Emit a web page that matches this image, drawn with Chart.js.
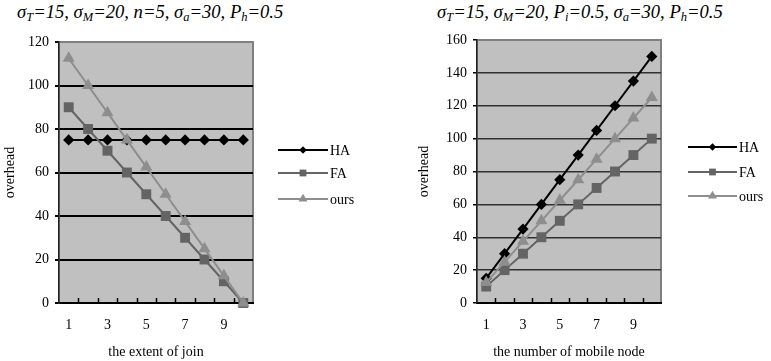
<!DOCTYPE html>
<html>
<head>
<meta charset="utf-8">
<script src="https://cdn.jsdelivr.net/npm/chart.js@4.4.1/dist/chart.umd.min.js"></script>
<style>
  html, body { margin: 0; padding: 0; background: #fff; }
  #wrap { position: relative; width: 771px; height: 361px; overflow: hidden; }
  canvas { position: absolute; top: 0; }
  .ttl {
    position: absolute; top: 1px; white-space: nowrap; color: #000;
    font-family: "Liberation Serif", serif; font-style: italic;
    font-size: 18.6px; line-height: 22px;
  }
  .ttl sub { font-size: 12.5px; line-height: 0; vertical-align: -3px; }
</style>
</head>
<body>
<div id="wrap">
  <div class="ttl" style="left:17px">&sigma;<sub>T</sub>=15, &sigma;<sub>M</sub>=20, n=5, &sigma;<sub>a</sub>=30, P<sub>h</sub>=0.5</div>
  <div class="ttl" style="left:437px">&sigma;<sub>T</sub>=15, &sigma;<sub>M</sub>=20, P<sub>i</sub>=0.5, &sigma;<sub>a</sub>=30, P<sub>h</sub>=0.5</div>
  <canvas id="left" width="390" height="361" style="left:0"></canvas>
  <canvas id="right" width="381" height="361" style="left:390px"></canvas>
</div>
<script>
// x categories (both charts)
const categories = ['1', '2', '3', '4', '5', '6', '7', '8', '9', '10'];

// left: the extent of join
const joinHA   = [75, 75, 75, 75, 75, 75, 75, 75, 75, 75];
const joinFA   = [90, 80, 70, 60, 50, 40, 30, 20, 10, 0];
const joinOurs = [112.5, 100, 87.5, 75, 62.5, 50, 37.5, 25, 12.5, 0];

// right: the number of mobile node
const nodeHA   = [15, 30, 45, 60, 75, 90, 105, 120, 135, 150];
const nodeFA   = [10, 20, 30, 40, 50, 60, 70, 80, 90, 100];
const nodeOurs = [12.5, 25, 37.5, 50, 62.5, 75, 87.5, 100, 112.5, 125];

const seriesNames = ['HA', 'FA', 'ours'];
const FONT = '"Liberation Serif", "Times New Roman", serif';

const styles = [
  { color: '#000000', pointStyle: 'rectRot', radius: 5.6, legendRadius: 3.8 },
  { color: '#646464', pointStyle: 'rect', radius: 7, legendRadius: 4.8 },
  { color: '#8e8e8e', pointStyle: 'triangle', radius: 7, legendRadius: 5.2 }
];

// grey plot area + border, and small up-pointing category ticks
const plotFrame = {
  id: 'plotFrame',
  beforeDraw(chart) {
    const { ctx, chartArea: a } = chart;
    ctx.save();
    ctx.fillStyle = '#c0c0c0';
    ctx.fillRect(a.left, a.top, a.width, a.height);
    ctx.strokeStyle = '#808080';
    ctx.lineWidth = 2;
    ctx.strokeRect(a.left, a.top, a.width, a.height);
    ctx.restore();
  },
  beforeDatasetsDraw(chart) {
    const { ctx, chartArea: a, scales: { x } } = chart;
    const step = x.getPixelForValue(1) - x.getPixelForValue(0);
    ctx.save();
    ctx.strokeStyle = '#000';
    ctx.lineWidth = 1.5;
    for (let i = 1; i < categories.length; i++) {
      const px = Math.round(x.getPixelForValue(i) - step / 2) + 0.5;
      ctx.beginPath();
      ctx.moveTo(px, a.bottom);
      ctx.lineTo(px, a.bottom - 5);
      ctx.stroke();
    }
    ctx.restore();
  }
};

// legend drawn as line + marker + name, like the original
const sideLegend = {
  id: 'sideLegend',
  afterDraw(chart, args, opts) {
    const { ctx } = chart;
    ctx.save();
    seriesNames.forEach((name, i) => {
      const s = styles[i];
      const y = opts.ys[i];
      ctx.strokeStyle = s.color;
      ctx.fillStyle = s.color;
      ctx.lineWidth = 2;
      ctx.beginPath();
      ctx.moveTo(opts.x1, y);
      ctx.lineTo(opts.x2, y);
      ctx.stroke();
      Chart.helpers.drawPoint(ctx, {
        pointStyle: s.pointStyle, radius: s.legendRadius, rotation: 0, borderWidth: 0
      }, (opts.x1 + opts.x2) / 2, y);
      ctx.fillStyle = '#000';
      ctx.font = '14px ' + FONT;
      ctx.textBaseline = 'middle';
      ctx.fillText(name, opts.x2 + 2, y + 1);
    });
    ctx.restore();
  }
};

function makeChart(id, values, yMax, gridColor, gridWidth, xTitle, geo) {
  const ctx = document.getElementById(id).getContext('2d');
  return new Chart(ctx, {
    type: 'line',
    data: {
      labels: categories,
      datasets: values.map((v, i) => ({
        label: seriesNames[i],
        data: v,
        borderColor: styles[i].color,
        backgroundColor: styles[i].color,
        borderWidth: 2,
        pointStyle: styles[i].pointStyle,
        pointRadius: styles[i].radius,
        pointBorderWidth: 0,
        pointBackgroundColor: styles[i].color,
        tension: 0,
        clip: false
      })).reverse()
    },
    options: {
      responsive: false,
      animation: false,
      events: [],
      layout: { padding: geo.padding },
      plugins: {
        legend: { display: false },
        tooltip: { enabled: false },
        sideLegend: geo.legend
      },
      scales: {
        x: {
          type: 'category',
          offset: true,
          grid: { display: true, drawOnChartArea: false, drawTicks: false },
          border: { display: true, color: '#000', width: 2 },
          ticks: {
            autoSkip: false,
            maxRotation: 0,
            padding: 14,
            color: '#000',
            font: { family: FONT, size: 14 },
            callback: (v, i) => (i % 2 === 0 ? categories[i] : '')
          },
          title: {
            display: true, text: xTitle, color: '#000',
            font: { family: FONT, size: 14 }, padding: { top: 0, bottom: 0 }
          },
          afterFit: s => { s.height = 58; }
        },
        y: {
          min: 0,
          max: yMax,
          grid: {
            color: c => (c.tick && c.tick.value === yMax ? 'rgba(0,0,0,0)' : gridColor),
            lineWidth: gridWidth,
            tickColor: '#000',
            tickLength: 4
          },
          border: { display: true, color: '#222', width: 1.5 },
          ticks: {
            stepSize: 20,
            padding: 6,
            color: '#000',
            font: { family: FONT, size: 14 }
          },
          title: {
            display: true, text: 'overhead', color: '#000',
            font: { family: FONT, size: 14 }, padding: { top: 2, bottom: 0 }
          },
          afterFit: s => { s.width = geo.yWidth; }
        }
      }
    },
    plugins: [plotFrame, sideLegend]
  });
}

makeChart('left', [joinHA, joinFA, joinOurs], 120, '#000', 2, 'the extent of join', {
  padding: { top: 42, right: 137, left: 0, bottom: 0 },
  yWidth: 59,
  legend: { x1: 278, x2: 328, ys: [150, 173, 199] }
});

makeChart('right', [nodeHA, nodeFA, nodeOurs], 160, '#303030', 1.5, 'the number of mobile node', {
  padding: { top: 40, right: 110, left: 24, bottom: 0 },
  yWidth: 63,
  legend: { x1: 298, x2: 347, ys: [147, 172, 196] }
});
</script>
</body>
</html>
